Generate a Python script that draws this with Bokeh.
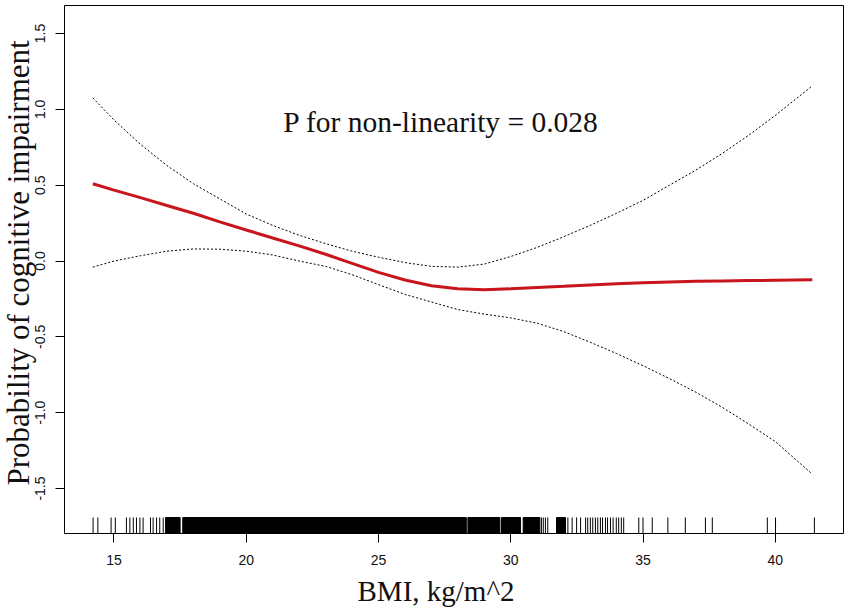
from bokeh.plotting import figure
from bokeh.models import Range1d, FixedTicker, PrintfTickFormatter, Label, Title
from bokeh.embed import file_html
from bokeh.resources import INLINE

# ---- data ----
bmi = [14.2, 15.0, 16.0, 17.0, 18.0, 19.0, 20.0, 21.0, 22.0, 23.0, 24.0, 25.0, 26.0, 27.0,
       28.0, 29.0, 30.0, 31.0, 32.0, 33.0, 34.0, 35.0, 36.0, 37.0, 38.0, 39.0, 40.0, 41.4]
estimate = [0.51, 0.468, 0.418, 0.366, 0.315, 0.258, 0.205, 0.152, 0.10, 0.045, -0.015, -0.075,
            -0.125, -0.163, -0.183, -0.19, -0.183, -0.175, -0.167, -0.158, -0.15, -0.143,
            -0.138, -0.134, -0.131, -0.129, -0.127, -0.124]
upper = [1.076, 0.93, 0.77, 0.63, 0.51, 0.41, 0.31, 0.235, 0.17, 0.115, 0.065, 0.025, -0.01,
         -0.035, -0.04, -0.02, 0.03, 0.09, 0.16, 0.235, 0.315, 0.40, 0.50, 0.60, 0.71, 0.83,
         0.96, 1.155]
lower = [-0.04, 0.0, 0.035, 0.065, 0.08, 0.078, 0.065, 0.04, 0.0, -0.035, -0.09, -0.155, -0.22,
         -0.27, -0.32, -0.35, -0.375, -0.41, -0.465, -0.535, -0.61, -0.69, -0.775, -0.865,
         -0.965, -1.075, -1.19, -1.405]

# rug: individual observations and densely packed stretches
rug_ticks = [14.21, 14.39, 14.89, 15.05, 15.47, 15.60, 15.73, 15.85, 15.98, 16.10, 16.38, 16.48,
             16.61, 16.73, 16.86, 31.16, 31.23, 31.31, 31.40, 32.16, 32.32, 32.49, 32.64, 32.83,
             32.91, 33.01, 33.10, 33.20, 33.29, 33.39, 33.47, 33.58, 33.66, 33.77, 33.87, 33.99,
             34.08, 34.18, 34.27, 34.84, 35.00, 35.35, 35.94, 36.60, 37.36, 37.62, 39.70, 40.01,
             41.48]
rug_block_start = [16.95, 17.60, 28.38, 29.65, 30.47, 31.73]
rug_block_end = [17.50, 28.32, 29.59, 30.37, 31.10, 32.07]

x_ticks = [15, 20, 25, 30, 35, 40]
y_ticks = [-1.5, -1.0, -0.5, 0.0, 0.5, 1.0, 1.5]

x_title = "BMI, kg/m^2"
y_title = "Probability of cognitive impairment"
note = "P for non-linearity = 0.028"

# ---- figure ----
X0, X1 = 13.129, 42.58
Y0, Y1 = -1.7965, 1.685
RUG_H = 0.1054

p = figure(width=848, height=616, x_range=Range1d(X0, X1), y_range=Range1d(Y0, Y1),
           output_backend="svg", toolbar_location=None,
           min_border_left=64, min_border_right=5, min_border_top=5, min_border_bottom=83)
p.xgrid.visible = False
p.ygrid.visible = False
p.outline_line_color = "black"
p.outline_line_width = 1
p.outline_line_alpha = 1.0
p.background_fill_color = "white"
p.border_fill_color = "white"

for ax in (p.xaxis, p.yaxis):
    ax.axis_line_color = None
    ax.major_tick_out = 9
    ax.major_tick_in = 0
    ax.minor_tick_out = 0
    ax.minor_tick_in = 0
    ax.major_tick_line_color = "black"
    ax.major_label_text_font = "Liberation Sans"
    ax.major_label_text_font_size = "14px"
    ax.major_label_text_color = "#111111"

p.xaxis.ticker = FixedTicker(ticks=x_ticks)
p.yaxis.ticker = FixedTicker(ticks=y_ticks)
p.yaxis.formatter = PrintfTickFormatter(format="%.1f")
p.yaxis.major_label_orientation = "vertical"
p.xaxis.major_label_standoff = 12
p.yaxis.major_label_standoff = 10

p.add_layout(Title(text=x_title, align="left", offset=293, standoff=11,
                   text_font="Liberation Serif", text_font_size="29px",
                   text_font_style="normal", text_color="#111111"), "below")
p.add_layout(Title(text=y_title, align="left", offset=48, standoff=-7,
                   text_font="Liberation Serif", text_font_size="31px",
                   text_font_style="normal", text_color="#111111"), "left")

# confidence band and estimate
p.line(bmi, upper, line_color="black", line_width=1, line_dash="2 2")
p.line(bmi, lower, line_color="black", line_width=1, line_dash="2 2")
p.line(bmi, estimate, line_color="#c8141c", line_width=3)

# rug
p.segment(x0=rug_ticks, y0=[Y0] * len(rug_ticks), x1=rug_ticks, y1=[Y0 + RUG_H] * len(rug_ticks),
          line_color="black", line_width=1)
p.quad(left=rug_block_start, right=rug_block_end, bottom=[Y0] * len(rug_block_start),
       top=[Y0 + RUG_H] * len(rug_block_start), fill_color="black", line_color="black",
       line_width=1)

p.add_layout(Label(x=21.4, y=0.918, text=note, text_font="Liberation Serif",
                   text_font_size="29.5px", text_color="#111111", text_baseline="alphabetic"))

open("out.html", "w").write(file_html(p, INLINE))
